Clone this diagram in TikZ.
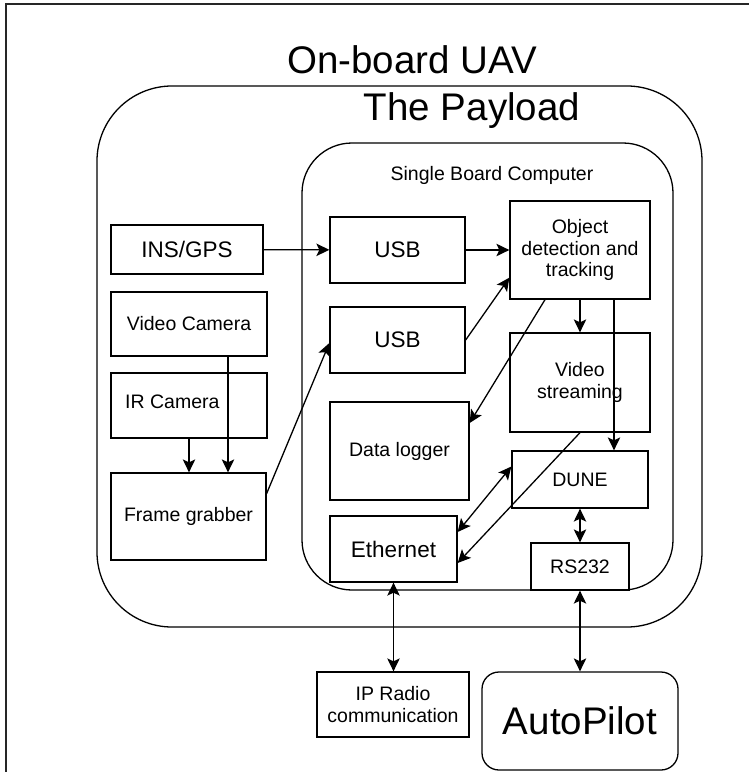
\documentclass[tikz,border=0pt]{standalone}
\usepackage{fontspec}
\setmainfont{Liberation Sans}
\usetikzlibrary{arrows.meta,calc}

\newcommand\smallfs{\fontsize{19.5}{21.7}\selectfont}
\newcommand\midfs{\fontsize{22.5}{26}\selectfont}
\newcommand\bigfs{\fontsize{38.5}{44}\selectfont}

\tikzset{
  block/.style={draw, line width=1.3pt, inner sep=0pt, align=center, font=\smallfs},
  container/.style={draw, line width=1.3pt, inner sep=0pt},
  title/.style={inner sep=0pt, anchor=base},
  tip/.tip={Stealth[length=13pt,width=12.5pt,inset=3pt]},
  arr/.style={line width=1.3pt, -tip},
  darr/.style={line width=1.3pt, tip-tip},
}

\begin{document}
\begin{tikzpicture}[x=1pt,y=-1pt]
\useasboundingbox (0,0) rectangle (748,772);

% outer frame (open towards the right and bottom edges)
\draw[line width=2pt, black!85] (6,790) -- (6,4) -- (760,4);
\node[title, font=\bigfs] (uav) at (412,73) {On-board UAV};

% containers
\node[container, rounded corners=75pt, minimum width=605pt, minimum height=541pt] (payload) at (399.5,356.5) {};
\node[title, font=\bigfs] (payloadlbl) at (472,120) {The Payload};
\node[container, rounded corners=50pt, minimum width=371pt, minimum height=447pt] (sbc) at (487.5,366.5) {};
\node[title, font=\smallfs] (sbclbl) at (492,180) {Single Board Computer};

% sensors
\node[block, font=\midfs, minimum width=152pt, minimum height=49pt] (ins) at (187,249.5) {INS/GPS};
\node[block, minimum width=156pt, minimum height=64pt] (vcam) at (189,324) {Video Camera};
\node[block, minimum width=156pt, minimum height=65pt] (ircam) at (189,405.5) {};
\node[font=\smallfs, inner sep=0pt, anchor=west] (irlbl) at (125,402) {IR Camera};
\node[block, minimum width=155pt, minimum height=87pt] (fg) at (188.5,516.5) {Frame grabber};

% single board computer internals
\node[block, font=\midfs, minimum width=135pt, minimum height=66pt] (usb1) at (397.5,250) {USB};
\node[block, font=\midfs, minimum width=135pt, minimum height=66pt] (usb2) at (397.5,340) {USB};
\node[block, minimum width=139pt, minimum height=98pt] (dl) at (399.5,451) {Data logger};
\node[block, font=\midfs, minimum width=127pt, minimum height=66pt] (eth) at (393.5,549) {Ethernet};
\node[block, minimum width=140pt, minimum height=98pt] (obj) at (580,250) {Object\\detection and\\tracking};
\node[block, minimum width=140pt, minimum height=99pt] (vs) at (580,382.5) {Video\\streaming};
\node[block, minimum width=136pt, minimum height=57pt] (dune) at (580,479.5) {DUNE};
\node[block, minimum width=98pt, minimum height=47pt] (rs) at (580,566.5) {RS232};

% external units
\node[block, minimum width=152pt, minimum height=65pt] (ipr) at (393,704.5) {IP Radio\\communication};
\node[block, font=\bigfs, rounded corners=17pt, minimum width=196pt, minimum height=98pt] (ap) at (580,721) {AutoPilot};

% guide coordinates for vertical links
\coordinate (vx) at (228,0);
\coordinate (dx) at (614,0);
\coordinate (lx) at (545,0);

% connectors
\draw[arr] (ins) -- (usb1);
\draw[arr] (usb1) -- (obj);
\draw[arr] (usb2.east) -- ([yshift=22pt]obj.south west);
\draw[arr] ([yshift=23pt]fg.east) -- ([yshift=-3pt]usb2.west);
\draw[arr] (vcam.south -| vx) -- (fg.north -| vx);
\draw[arr] (ircam.south) -- (ircam.south |- fg.north);
\draw[arr] (obj.south) -- (vs.north);
\draw[arr] (obj.south -| dx) -- (dune.north -| dx);
\draw[arr] (obj.south -| lx) -- ([yshift=28pt]dl.east);
\draw[darr] ([yshift=13pt]dune.west) -- ([yshift=17pt]eth.east);
\draw[arr] (vs.south) -- ([yshift=-14pt]eth.east);
\draw[darr] (dune.south) -- (rs.north);
\draw[darr] (eth.south) -- (eth.south |- ipr.north);
\draw[darr] (rs.south) -- (ap.north);
\end{tikzpicture}
\end{document}
